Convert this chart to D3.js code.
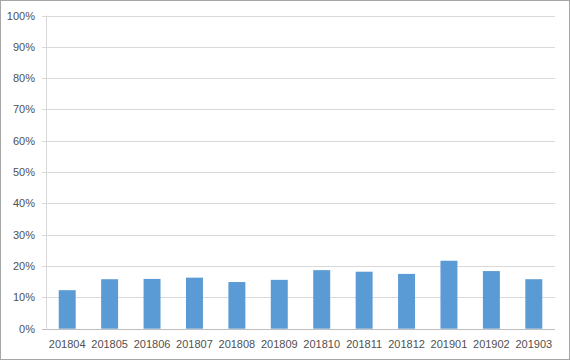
<!DOCTYPE html>
<html><head><meta charset="utf-8">
<script src="https://cdn.jsdelivr.net/npm/d3@7"></script>
<style>body{margin:0;background:#fff}svg{display:block}</style>
</head><body><svg id="c" width="570" height="360"></svg>
<script>
const categories = ["201804","201805","201806","201807","201808","201809","201810","201811","201812","201901","201902","201903"];
const values = [0.123,0.158,0.159,0.163,0.149,0.156,0.187,0.182,0.175,0.217,0.184,0.158];
const yTicks = [0,0.1,0.2,0.3,0.4,0.5,0.6,0.7,0.8,0.9,1.0];

const svg = d3.select("#c");
const W=570,H=360;
const m={l:46,r:15,t:15.5,b:31.3};
svg.append("rect").attr("x",0.5).attr("y",0.5).attr("width",W-1).attr("height",H-1)
  .attr("fill","#fff").attr("stroke","#a6a6a6");
const x=d3.scaleBand().domain(categories).range([m.l,W-m.r]).paddingInner(0.6).paddingOuter(0.3);
const y=d3.scaleLinear().domain([0,1]).range([H-m.b,m.t]);
const font="'Liberation Sans', Arial, sans-serif";
// gridlines
svg.append("g").selectAll("line").data(yTicks).join("line")
  .attr("x1",m.l-4).attr("x2",W-m.r)
  .attr("y1",d=>Math.round(y(d))+0.5).attr("y2",d=>Math.round(y(d))+0.5)
  .attr("stroke","#d9d9d9").attr("stroke-width",1);
// y labels
const ya=d3.axisLeft(y).tickValues(yTicks).tickFormat(d3.format(".0%")).tickSize(0).tickPadding(11);
const gy=svg.append("g").attr("transform",`translate(${m.l},0)`).call(ya);
gy.select(".domain").remove();
gy.selectAll("text").attr("font-family",font).attr("font-size",11).attr("fill","#505050");
// left axis line
svg.append("line").attr("x1",m.l+0.5).attr("x2",m.l+0.5).attr("y1",y(1)).attr("y2",y(0))
  .attr("stroke","#d9d9d9");
// bars
svg.append("g").selectAll("rect").data(values).join("rect")
  .attr("x",(d,i)=>x(categories[i])).attr("width",x.bandwidth())
  .attr("y",d=>y(d)).attr("height",d=>y(0)-y(d)).attr("fill","#5b9bd5");
// x axis
svg.append("line").attr("x1",m.l-4).attr("x2",W-m.r).attr("y1",Math.round(y(0))+0.5).attr("y2",Math.round(y(0))+0.5)
  .attr("stroke","#bfbfbf");
const xa=d3.axisBottom(x).tickSize(0).tickPadding(12);
const gx=svg.append("g").attr("transform",`translate(0,${y(0)})`).call(xa);
gx.select(".domain").remove();
gx.selectAll("text").attr("font-family",font).attr("font-size",11).attr("fill","#505050");
</script></body></html>
